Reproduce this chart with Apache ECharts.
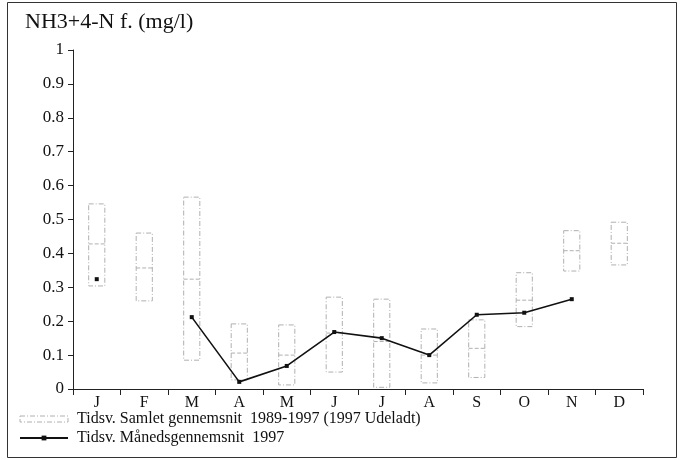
<!DOCTYPE html>
<html>
<head>
<meta charset="utf-8">
<script src="https://cdn.jsdelivr.net/npm/echarts@6/dist/echarts.min.js"></script>
<style>
html,body{margin:0;padding:0;background:#fff;}
#chart{width:683px;height:460px;}
</style>
</head>
<body>
<div id="chart"></div>
<script>
const months = ['J','F','M','A','M','J','J','A','S','O','N','D'];
const boxMin  = [0.304, 0.260, 0.085, 0.027, 0.012, 0.050, 0.005, 0.018, 0.034, 0.184, 0.348, 0.366];
const boxMean = [0.428, 0.357, 0.324, 0.106, 0.100, 0.165, 0.140, 0.100, 0.120, 0.262, 0.408, 0.430];
const boxMax  = [0.546, 0.460, 0.566, 0.192, 0.189, 0.271, 0.265, 0.177, 0.204, 0.343, 0.467, 0.492];
const values1997 = [0.324, null, 0.212, 0.021, 0.068, 0.168, 0.150, 0.100, 0.219, 0.225, 0.265, null];
const yTicks = [0, 0.1, 0.2, 0.3, 0.4, 0.5, 0.6, 0.7, 0.8, 0.9, 1];
const seriesNames = ['Tidsv. Samlet gennemsnit  1989-1997 (1997 Udeladt)', 'Tidsv. Månedsgennemsnit  1997'];
const titleText = 'NH3+4-N f. (mg/l)';

const serif = '"Liberation Serif", "DejaVu Serif", serif';
const boxData = months.map((m, i) => [i, boxMin[i], boxMean[i], boxMax[i]]);
const boxColor = '#b0b0b0';

const chart = echarts.init(document.getElementById('chart'), null, {renderer: 'canvas'});
chart.setOption({
  animation: false,
  backgroundColor: '#fff',
  textStyle: {fontFamily: serif},
  title: {
    text: titleText, left: 20, top: 6,
    textStyle: {fontFamily: serif, fontSize: 22, fontWeight: 'normal', color: '#111'}
  },
  graphic: [{
    type: 'rect', shape: {x: 7.5, y: 2.5, width: 669, height: 455},
    style: {fill: 'none', stroke: '#333', lineWidth: 1}, silent: true
  }],
  legend: {
    orient: 'vertical', left: 14, top: 406, itemGap: 3,
    itemWidth: 48, itemHeight: 6,
    textStyle: {fontFamily: serif, fontSize: 16, color: '#111', padding: [0, 0, 0, 4]},
    data: [
      {name: seriesNames[0], icon: 'rect', itemStyle: {color: 'rgba(0,0,0,0)', borderColor: boxColor, borderWidth: 1, borderType: [5, 2, 1, 2]}},
      {name: seriesNames[1]}
    ]
  },
  grid: {left: 73, right: 40, top: 50, bottom: 71},
  xAxis: {
    type: 'category', data: months, boundaryGap: true,
    axisLine: {lineStyle: {color: '#222', width: 1}},
    axisTick: {show: true, inside: false, length: 6, lineStyle: {color: '#222'}},
    axisLabel: {fontFamily: serif, fontSize: 16, color: '#111', margin: 6},
    splitLine: {show: false}
  },
  yAxis: {
    type: 'value', min: 0, max: 1, interval: 0.1,
    axisLine: {show: true, lineStyle: {color: '#222', width: 1}},
    axisTick: {show: true, inside: false, length: 5, lineStyle: {color: '#222'}},
    axisLabel: {fontFamily: serif, fontSize: 17, color: '#111', margin: 9,
      formatter: v => { const t = yTicks.find(x => Math.abs(x - v) < 1e-6); return t === undefined ? '' : String(t); }},
    splitLine: {show: false}
  },
  series: [
    {
      name: seriesNames[0],
      type: 'custom',
      data: boxData,
      encode: {x: 0, y: [1, 2, 3]},
      itemStyle: {color: boxColor},
      renderItem: function (params, api) {
        const x = api.value(0);
        const lo = api.coord([x, api.value(1)]);
        const mean = api.coord([x, api.value(2)]);
        const hi = api.coord([x, api.value(3)]);
        const w = api.size([1, 0])[0] * 0.34;
        const x0 = lo[0] - w / 2;
        return {
          type: 'group',
          children: [
            {type: 'rect', shape: {x: x0, y: hi[1], width: w, height: lo[1] - hi[1]},
              style: {fill: 'none', stroke: boxColor, lineWidth: 1, lineDash: [5, 2, 1, 2]}},
            {type: 'line', shape: {x1: x0, y1: mean[1], x2: x0 + w, y2: mean[1]},
              style: {stroke: boxColor, lineWidth: 1, lineDash: [4, 2]}}
          ]
        };
      },
      z: 1
    },
    {
      name: seriesNames[1],
      type: 'line',
      data: values1997,
      connectNulls: false,
      symbol: 'rect', symbolSize: 4, showSymbol: true,
      itemStyle: {color: '#111'},
      lineStyle: {color: '#111', width: 1.6},
      z: 3
    }
  ]
});
</script>
</body>
</html>
